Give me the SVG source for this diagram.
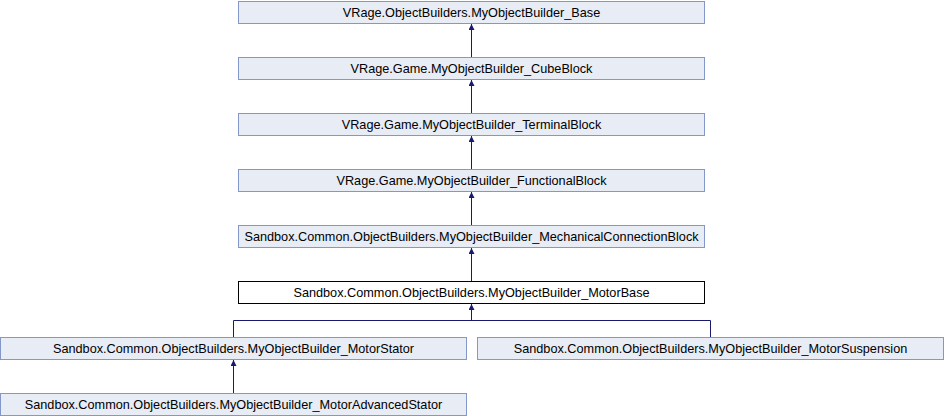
<svg xmlns="http://www.w3.org/2000/svg" width="944" height="416" viewBox="0 0 944 416">
<style>
.n rect{fill:#E8ECF5;stroke:#8497C9;stroke-width:1}
.n.cur rect{fill:#FFFFFF;stroke:#000000}
.n text{font-family:"Liberation Sans",Arial,sans-serif;font-size:12.7px;fill:#000;text-anchor:middle}
.e{fill:none;stroke:#191970;stroke-width:1}
</style>
<defs>
<marker id="ah" viewBox="0 0 10 10" refX="10" refY="5" markerWidth="6" markerHeight="6" orient="auto" markerUnits="userSpaceOnUse">
<path d="M0,0 L10,5 L0,10 z" fill="#191970"/>
</marker>
</defs>
<rect width="944" height="416" fill="#FFFFFF"/>
<g id="node_base" class="n"><rect x="238.5" y="1.5" width="466" height="22"/><text x="471.5" y="17">VRage.ObjectBuilders.MyObjectBuilder_Base</text></g>
<g id="node_cubeblock" class="n"><rect x="238.5" y="57.5" width="466" height="22"/><text x="471.5" y="73">VRage.Game.MyObjectBuilder_CubeBlock</text></g>
<g id="node_terminalblock" class="n"><rect x="238.5" y="113.5" width="466" height="22"/><text x="471.5" y="129">VRage.Game.MyObjectBuilder_TerminalBlock</text></g>
<g id="node_functionalblock" class="n"><rect x="238.5" y="169.5" width="466" height="22"/><text x="471.5" y="185">VRage.Game.MyObjectBuilder_FunctionalBlock</text></g>
<g id="node_mechconn" class="n"><rect x="238.5" y="225.5" width="466" height="22"/><text x="471.5" y="241">Sandbox.Common.ObjectBuilders.MyObjectBuilder_MechanicalConnectionBlock</text></g>
<g id="node_motorbase" class="n cur"><rect x="238.5" y="281.5" width="466" height="22"/><text x="471.5" y="297">Sandbox.Common.ObjectBuilders.MyObjectBuilder_MotorBase</text></g>
<g id="node_motorstator" class="n"><rect x="0.5" y="337.5" width="466" height="22"/><text x="233.5" y="353">Sandbox.Common.ObjectBuilders.MyObjectBuilder_MotorStator</text></g>
<g id="node_motorsuspension" class="n"><rect x="477.5" y="337.5" width="466" height="22"/><text x="710.5" y="353">Sandbox.Common.ObjectBuilders.MyObjectBuilder_MotorSuspension</text></g>
<g id="node_motoradvstator" class="n"><rect x="0.5" y="393.5" width="466" height="22"/><text x="233.5" y="409">Sandbox.Common.ObjectBuilders.MyObjectBuilder_MotorAdvancedStator</text></g>
<g id="connectors">
<path class="e" d="M471.5,57 V24" marker-end="url(#ah)"/>
<path class="e" d="M471.5,113 V80" marker-end="url(#ah)"/>
<path class="e" d="M471.5,169 V136" marker-end="url(#ah)"/>
<path class="e" d="M471.5,225 V192" marker-end="url(#ah)"/>
<path class="e" d="M471.5,281 V248" marker-end="url(#ah)"/>
<path class="e" d="M233.5,337 V320.5 H710.5 V337"/>
<path class="e" d="M471.5,320.5 V304" marker-end="url(#ah)"/>
<path class="e" d="M233.5,393 V360" marker-end="url(#ah)"/>
</g>
</svg>
